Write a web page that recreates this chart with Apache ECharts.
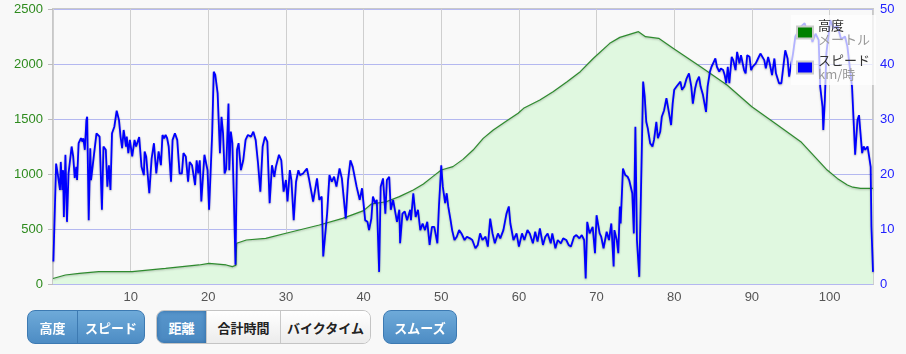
<!DOCTYPE html>
<html>
<head>
<meta charset="utf-8">
<script src="https://cdn.jsdelivr.net/npm/echarts@6/dist/echarts.min.js"></script>
<style>
    html, body {margin: 0; padding: 0; background: #f8f8f8;}
    #wrap {position: relative; width: 906px; height: 354px;}
    #chart {position: absolute; left: 0; top: 0; width: 906px; height: 354px;}
    .grp {position: absolute; top: 310px; height: 32px; display: flex; border-radius: 8px; overflow: hidden;
        font-family: "Noto Sans CJK JP", sans-serif; font-weight: bold; font-size: 13px;}
    .grp span {display: flex; align-items: center; justify-content: center; height: 100%; box-sizing: border-box;}
    .blue {background: linear-gradient(#6eaad9, #4d8cc4); color: #fff; border: 1px solid #3d7ab2;}
    .blue span + span {border-left: 1px solid #3d7ab2;}
    .white {border: 1px solid #c4c4c4;}
    .white span {background: linear-gradient(#ffffff, #ececec); color: #222;}
    .white span + span {border-left: 1px solid #c8c8c8;}
    .white span.on {background: linear-gradient(#5896cc, #4a88c0); color: #fff; box-shadow: inset 0 0 4px #2d6aa3;}
</style>
</head>
<body>
<div id="wrap">
    <div id="chart"></div>
    <div class="grp blue" style="left:27px;width:116px;"><span style="width:49px;">高度</span><span style="width:67px;">スピード</span></div>
    <div class="grp white" style="left:156px;width:213px;"><span class="on" style="width:49px;">距離</span><span style="width:74px;">合計時間</span><span style="width:90px;">バイクタイム</span></div>
    <div class="grp blue" style="left:383px;width:72px;"><span style="width:72px;">スムーズ</span></div>
</div>
<script>
// 高度 (m) by distance (km)
var elevKm = [0, 1.6, 3.4, 5.9, 10.2, 14.5, 18.8, 20.1, 22.3, 23.1, 23.55, 23.65, 24.9, 27.4, 30.0, 31.7, 34.3, 37.3,
    40.0, 41.0, 42.9, 44.6, 46.4, 47.7, 48.9, 50.0, 51.5, 52.8, 54.1, 55.4, 56.7, 58.4, 59.9, 60.6, 62.7, 64.4, 66.2,
    67.9, 69.6, 71.7, 73.0, 75.4, 76.3, 78.0, 79.9, 83.4, 86.8, 90.0, 93.3, 96.3, 99.7, 101.0, 102.3, 103.0, 104.0, 105.6];
var elevM = [50, 82, 97, 112, 112, 142, 173, 188, 173, 158, 170, 370, 400, 415, 461, 491, 536, 597,
    667, 727, 748, 794, 855, 909, 976, 1036, 1067, 1133, 1218, 1324, 1400, 1482, 1552, 1597, 1673, 1748, 1839,
    1930, 2052, 2188, 2242, 2294, 2248, 2233, 2142, 1976, 1809, 1612, 1445, 1294, 1036, 960, 900, 880, 870, 870];

// スピード (km/h) by distance (km)
var speedKm = [0.05, 0.4, 0.6, 0.9, 1.0, 1.2, 1.3, 1.4, 1.6, 1.8, 2.0, 2.2, 2.4, 2.6, 2.8, 3.0, 3.1, 3.3, 3.6, 3.8, 3.9,
    4.1, 4.3, 4.4, 4.6, 4.8, 4.9, 5.3, 5.6, 5.8, 6.0, 6.3, 6.5, 6.8, 7.0, 7.2, 7.4, 7.6, 7.9, 8.2, 8.5, 8.7, 8.9, 9.1,
    9.4, 9.5, 9.7, 9.9, 10.2, 10.5, 10.7, 11.1, 11.4, 11.7, 11.8, 12.0, 12.2, 12.4, 12.7, 12.9, 13.0, 13.3, 13.5, 13.6,
    13.9, 14.1, 14.3, 14.5, 14.7, 14.9, 15.2, 15.4, 15.7, 16.0, 16.3, 16.6, 16.8, 17.1, 17.4, 17.6, 17.9, 18.3, 18.5,
    18.7, 18.9, 19.1, 19.5, 19.7, 19.9, 20.1, 20.5, 20.7, 20.9, 21.2, 21.3, 21.5, 21.7, 21.9, 22.1, 22.3, 22.6, 22.7,
    22.9, 23.1, 23.3, 23.5, 23.7, 23.9, 24.2, 24.5, 24.8, 25.1, 25.5, 25.8, 26.1, 26.4, 26.7, 27.0, 27.3, 27.6, 27.9,
    28.2, 28.5, 28.7, 29.1, 29.4, 29.7, 30.0, 30.2, 30.5, 30.7, 31.0, 31.3, 31.6, 31.8, 32.2, 32.7, 33.0, 33.5, 34.0,
    34.3, 34.6, 34.8, 35.3, 35.6, 35.9, 36.2, 36.5, 36.9, 37.2, 37.7, 38.0, 38.3, 38.6, 38.8, 39.1, 39.5, 39.8, 40.2,
    40.5, 40.7, 41.0, 41.2, 41.5, 41.7, 42.0, 42.2, 42.5, 42.8, 43.0, 43.3, 43.5, 43.8, 44.0, 44.3, 44.6, 44.7, 45.0,
    45.3, 45.6, 46.0, 46.1, 46.4, 46.7, 47.0, 47.3, 47.6, 47.9, 48.2, 48.5, 48.8, 49.1, 49.5, 49.7, 50.0, 50.2, 50.5,
    50.7, 50.9, 51.2, 51.4, 51.7, 52.0, 52.3, 52.6, 53.0, 53.3, 53.7, 54.0, 54.4, 54.7, 55.0, 55.3, 55.7, 56.0, 56.3,
    56.6, 56.9, 57.3, 57.6, 58.0, 58.4, 58.7, 58.9, 59.3, 59.7, 60.0, 60.4, 60.7, 61.1, 61.4, 61.8, 62.1, 62.4, 62.7,
    63.1, 63.4, 63.7, 64.1, 64.3, 64.7, 65.0, 65.4, 65.7, 66.1, 66.4, 66.7, 67.1, 67.4, 67.8, 68.1, 68.4, 68.6, 68.8,
    69.1, 69.5, 69.8, 70.0, 70.4, 70.6, 70.9, 71.1, 71.3, 71.6, 71.9, 72.2, 72.3, 72.6, 72.8, 73.0, 73.1, 73.4, 73.7,
    74.0, 74.2, 74.3, 74.6, 74.8, 75.0, 75.2, 75.4, 75.5, 75.8, 76.0, 76.2, 76.4, 76.6, 76.9, 77.2, 77.4, 77.7, 77.9,
    78.2, 78.4, 78.7, 79.0, 79.2, 79.6, 79.8, 80.0, 80.3, 80.5, 80.8, 81.0, 81.3, 81.6, 81.9, 82.2, 82.4, 82.7, 82.9,
    83.2, 83.4, 83.7, 83.9, 84.1, 84.3, 84.6, 84.8, 85.1, 85.3, 85.5, 85.8, 86.0, 86.3, 86.5, 86.7, 86.9, 87.1, 87.4,
    87.6, 87.9, 88.1, 88.4, 88.6, 89.0, 89.2, 89.4, 89.7, 89.9, 90.1, 90.5, 90.8, 91.1, 91.3, 91.6, 91.8, 92.1, 92.3,
    92.6, 92.9, 93.1, 93.5, 93.8, 94.1, 94.3, 94.6, 94.8, 95.0, 95.3, 95.6, 96.0, 96.3, 96.8, 97.1, 97.4, 97.8, 98.2,
    98.6, 98.8, 99.1, 99.2, 99.4, 99.6, 100.1, 100.5, 101.0, 101.5, 102.0, 102.3, 102.9, 103.1, 103.3, 103.6, 103.8,
    104.0, 104.2, 104.4, 104.6, 104.9, 105.1, 105.3, 105.4, 105.6];
var speedKmh = [4.1, 21.9, 20.1, 17.1, 22.2, 17.1, 20.7, 12.2, 23.5, 11.3, 20.1, 19.8, 25.0, 23.2, 19.3, 21.3, 18.9, 25.6,
    26.5, 25.9, 26.5, 24.4, 29.8, 30.4, 11.6, 24.7, 18.9, 23.8, 27.4, 27.7, 26.8, 13.5, 25.0, 24.4, 17.7, 21.6, 17.1,
    27.4, 28.6, 31.5, 29.8, 26.8, 24.7, 28.0, 25.0, 26.8, 23.8, 26.2, 23.2, 26.2, 25.0, 26.7, 21.3, 19.8, 24.1, 23.2,
    23.5, 16.5, 22.8, 22.5, 25.6, 20.1, 20.4, 24.1, 21.6, 27.1, 26.5, 27.1, 26.5, 25.0, 18.6, 26.2, 27.4, 26.2, 20.1,
    20.1, 23.8, 23.2, 18.6, 22.2, 21.6, 18.0, 22.5, 20.1, 22.5, 15.0, 23.5, 23.8, 20.7, 13.5, 27.4, 38.6, 38.0, 34.7,
    35.0, 23.8, 30.4, 27.4, 20.1, 20.9, 32.8, 20.7, 27.7, 25.6, 15.3, 3.5, 24.4, 25.6, 20.7, 22.5, 26.2, 27.1, 26.8,
    27.7, 26.2, 22.0, 16.8, 25.0, 26.8, 25.9, 14.7, 21.6, 19.5, 21.3, 23.5, 22.5, 16.8, 18.9, 15.0, 20.7, 18.9, 11.6,
    18.6, 20.7, 19.8, 20.1, 21.0, 18.9, 15.0, 19.2, 15.3, 15.9, 5.0, 12.8, 19.8, 18.6, 19.5, 17.7, 21.0, 19.2, 11.9,
    18.9, 22.5, 21.3, 21.6, 17.7, 15.3, 17.4, 11.6, 11.3, 9.8, 11.9, 15.9, 14.7, 15.3, 2.2, 17.7, 19.2, 12.8, 18.9,
    19.5, 13.5, 15.3, 15.6, 11.3, 13.5, 7.4, 12.8, 13.2, 11.6, 13.5, 11.6, 16.5, 12.2, 13.5, 9.8, 11.0, 9.8, 11.3, 7.1,
    10.4, 10.4, 7.4, 14.1, 21.6, 17.7, 14.7, 16.5, 14.1, 11.6, 9.8, 8.0, 8.6, 9.8, 9.2, 8.0, 8.6, 8.3, 8.0, 6.5, 7.1,
    9.2, 8.0, 8.6, 6.8, 11.9, 9.2, 7.4, 9.2, 8.3, 9.8, 12.8, 14.1, 11.0, 8.0, 9.2, 6.8, 9.2, 8.0, 9.8, 9.2, 7.4, 9.5,
    7.7, 10.1, 7.1, 8.6, 9.2, 7.4, 9.2, 6.5, 8.0, 7.4, 8.3, 8.0, 7.1, 6.8, 8.6, 8.9, 8.3, 8.9, 8.0, 1.0, 11.3, 9.2,
    10.4, 5.6, 12.5, 9.2, 8.6, 6.5, 8.0, 9.5, 8.0, 11.0, 3.2, 9.8, 8.0, 5.6, 14.1, 11.0, 21.0, 19.8, 19.5, 18.9, 19.2,
    16.5, 9.2, 28.6, 8.0, 7.7, 1.3, 22.5, 36.8, 34.1, 29.5, 28.3, 25.6, 25.0, 26.2, 29.5, 26.5, 27.7, 30.4, 31.6, 33.8,
    33.5, 28.9, 32.8, 35.3, 35.9, 35.6, 36.8, 35.3, 35.9, 37.4, 38.3, 35.9, 32.8, 35.6, 36.8, 37.7, 35.9, 34.4, 34.1,
    31.3, 35.9, 38.6, 39.5, 40.4, 41.0, 39.5, 38.6, 39.2, 38.9, 38.0, 36.5, 39.5, 36.5, 41.3, 40.7, 38.9, 42.2, 40.1,
    41.6, 38.9, 38.3, 41.6, 41.3, 38.9, 39.5, 40.1, 41.0, 41.9, 41.6, 40.7, 39.2, 41.3, 40.1, 38.0, 41.0, 38.3, 36.5,
    36.5, 40.1, 42.5, 41.0, 37.7, 37.4, 41.9, 45.0, 46.0, 46.8, 47.4, 45.9, 46.5, 44.0, 45.5, 44.4, 35.9, 32.2, 28.0,
    33.5, 42.0, 48.0, 46.5, 47.0, 44.5, 45.0, 43.2, 35.9, 29.8, 23.5, 29.8, 30.7, 31.0, 23.8, 25.0, 24.4, 25.0, 23.2,
    21.3, 10.4, 2.2];

var elevTicks = [0, 500, 1000, 1500, 2000, 2500];
var speedTicks = [0, 10, 20, 30, 40, 50];
var kmTicks = [10, 20, 30, 40, 50, 60, 70, 80, 90, 100];

var pairs = function (xs, ys) {
    return xs.map(function (x, i) { return [x, ys[i]]; });
};

var myChart = echarts.init(document.getElementById('chart'));
var font = 'Liberation Sans';

var option = {
    animation: false,
    backgroundColor: '#f8f8f8',
    grid: {
        left: 53, right: 33, top: 9, bottom: 70,
        show: true,
        backgroundColor: '#f9f9f9',
        borderColor: '#c8c8c8',
        borderWidth: 2
    },
    legend: {
        orient: 'vertical',
        left: 791,
        top: 15,
        padding: [4, 6, 4, 5],
        itemGap: 8,
        itemWidth: 16,
        itemHeight: 12,
        icon: 'rect',
        backgroundColor: 'rgba(255,255,255,0.7)',
        textStyle: {
            fontFamily: 'Noto Sans CJK JP',
            rich: {
                a: {fontSize: 13, color: '#333', lineHeight: 14, fontFamily: 'Noto Sans CJK JP'},
                b: {fontSize: 13, color: '#999', lineHeight: 14, fontFamily: 'Noto Sans CJK JP'}
            }
        },
        formatter: function (name) {
            return name === '高度' ? '{a|高度}\n{b|メートル}' : '{a|スピード}\n{b|km/時}';
        },
        data: [
            {name: '高度', itemStyle: {color: '#008000', borderColor: '#cccccc', borderWidth: 2}},
            {name: 'スピード', itemStyle: {color: '#0000ff', borderColor: '#cccccc', borderWidth: 2}}
        ]
    },
    xAxis: {
        type: 'value',
        min: 0,
        max: 105.6,
        interval: 10,
        axisLine: {show: false},
        axisTick: {show: false},
        splitLine: {lineStyle: {color: '#cfcfcf', width: 1}},
        axisLabel: {
            color: '#555', fontSize: 13, fontFamily: font, margin: 7,
            formatter: function (v) { return kmTicks.indexOf(v) >= 0 ? String(v) : ''; }
        }
    },
    yAxis: [
        {
            type: 'value',
            min: elevTicks[0],
            max: elevTicks[elevTicks.length - 1],
            interval: 500,
            axisLine: {show: false},
            axisTick: {show: true, length: 5, lineStyle: {color: '#bbbbbb'}},
            splitLine: {lineStyle: {color: '#b4b8f0', width: 1}},
            axisLabel: {
                color: '#2e8b1e', fontSize: 13, fontFamily: font, margin: 10,
                formatter: function (v) { return String(v); }
            }
        },
        {
            type: 'value',
            min: speedTicks[0],
            max: speedTicks[speedTicks.length - 1],
            interval: 10,
            axisLine: {show: false},
            axisTick: {show: false},
            splitLine: {show: false},
            axisLabel: {
                color: '#2222ff', fontSize: 13, fontFamily: font, margin: 7,
                formatter: function (v) { return String(v); }
            }
        }
    ],
    series: [
        {
            name: '高度',
            type: 'line',
            yAxisIndex: 0,
            showSymbol: false,
            data: pairs(elevKm, elevM),
            lineStyle: {color: '#2e8b2e', width: 1.2, shadowColor: 'rgba(0,0,0,0.25)', shadowBlur: 2, shadowOffsetY: 1},
            itemStyle: {color: '#008000'},
            areaStyle: {color: '#e0f8e0', opacity: 1},
            z: 1
        },
        {
            name: 'スピード',
            type: 'line',
            yAxisIndex: 1,
            showSymbol: false,
            data: pairs(speedKm, speedKmh),
            lineStyle: {color: '#0000ff', width: 1.8, shadowColor: 'rgba(0,0,0,0.3)', shadowBlur: 2, shadowOffsetY: 1},
            itemStyle: {color: '#0000ff'},
            z: 2
        }
    ]
};

myChart.setOption(option);
</script>
</body>
</html>
